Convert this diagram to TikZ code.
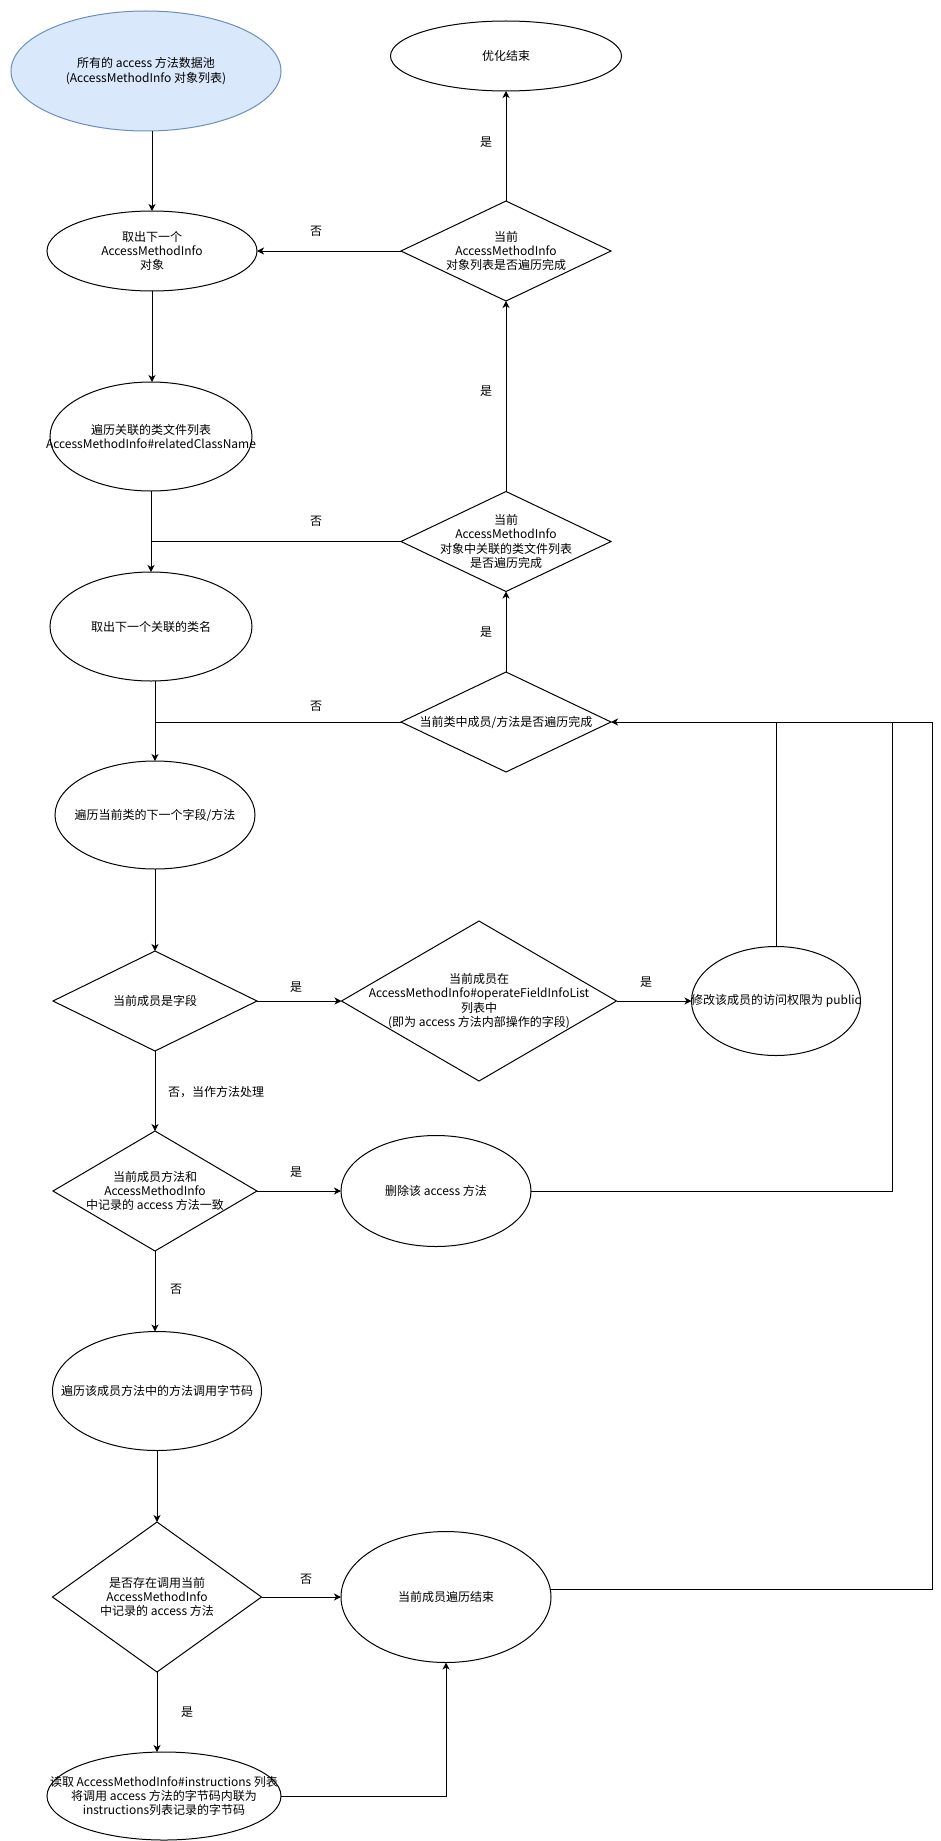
\documentclass[tikz,border=0pt]{standalone}
\usepackage{fontspec}
\setmainfont{Noto Sans CJK SC}
\usetikzlibrary{shapes.geometric,arrows.meta}
\definecolor{fillblue}{HTML}{DAE8FC}
\definecolor{strokeblue}{HTML}{6C8EBF}
\tikzset{
  shp/.style={draw=black, line width=1pt, inner sep=0pt, outer sep=0pt},
  ell/.style={shp, ellipse},
  dia/.style={shp, diamond},
  txt/.style={align=center, inner sep=0pt, font=\fontsize{12}{14.3}\selectfont},
  lbl/.style={inner sep=0pt, font=\fontsize{12}{14.3}\selectfont},
  arr/.style={line width=1pt, -{Stealth[length=7pt,width=7pt,inset=2pt]}},
  ln/.style={line width=1pt},
}
\begin{document}
\begin{tikzpicture}[x=1pt,y=-1pt]
\useasboundingbox (0,0) rectangle (941,1841);
\fill[white] (0,0) rectangle (941,1841);

% shapes
\node[ell, fill=fillblue, draw=strokeblue, minimum width=270pt, minimum height=120pt] (A) at (146,71) {};
\node[ell, minimum width=231pt, minimum height=70pt] (B) at (506,56) {};
\node[ell, minimum width=210pt, minimum height=80pt] (C) at (152,251) {};
\node[dia, minimum width=210pt, minimum height=100pt] (D) at (506,251) {};
\node[ell, minimum width=202pt, minimum height=109pt] (E) at (151,436.5) {};
\node[dia, minimum width=210pt, minimum height=100pt] (F) at (506,541.5) {};
\node[ell, minimum width=202pt, minimum height=109pt] (G) at (151,626.5) {};
\node[dia, minimum width=210pt, minimum height=100pt] (H) at (506,722) {};
\node[ell, minimum width=200pt, minimum height=108pt] (I) at (155,815) {};
\node[dia, minimum width=204pt, minimum height=100pt] (J) at (155,1001) {};
\node[dia, minimum width=275pt, minimum height=160pt] (K) at (479,1001) {};
\node[ell, minimum width=169pt, minimum height=109pt] (L) at (776,1001) {};
\node[dia, minimum width=204pt, minimum height=120pt] (M) at (155,1191) {};
\node[ell, minimum width=190pt, minimum height=111pt] (N) at (436,1191) {};
\node[ell, minimum width=209pt, minimum height=119pt] (O) at (157,1391) {};
\node[dia, minimum width=209pt, minimum height=150pt] (P) at (157,1597) {};
\node[ell, minimum width=210pt, minimum height=131pt] (Q) at (446,1597) {};
\node[ell, minimum width=234pt, minimum height=88pt] (R) at (164,1796) {};

% texts
\node[txt] (At) at (A) {所有的 access 方法数据池\\(AccessMethodInfo 对象列表)};
\node[txt] (Bt) at (B) {优化结束};
\node[txt] (Ct) at (C) {取出下一个\\AccessMethodInfo\\对象};
\node[txt] (Dt) at (D) {当前\\AccessMethodInfo\\对象列表是否遍历完成};
\node[txt] (Et) at (E) {遍历关联的类文件列表\\AccessMethodInfo\#relatedClassName};
\node[txt] (Ft) at (F) {当前\\AccessMethodInfo\\对象中关联的类文件列表\\是否遍历完成};
\node[txt] (Gt) at (G) {取出下一个关联的类名};
\node[txt] (Ht) at (H) {当前类中成员/方法是否遍历完成};
\node[txt] (It) at (I) {遍历当前类的下一个字段/方法};
\node[txt] (Jt) at (J) {当前成员是字段};
\node[txt] (Kt) at (K) {当前成员在\\AccessMethodInfo\#operateFieldInfoList\\列表中\\(即为 access 方法内部操作的字段)};
\node[txt] (Lt) at (L) {修改该成员的访问权限为 public};
\node[txt] (Mt) at (M) {当前成员方法和\\AccessMethodInfo\\中记录的 access 方法一致};
\node[txt] (Nt) at (N) {删除该 access 方法};
\node[txt] (Ot) at (O) {遍历该成员方法中的方法调用字节码};
\node[txt] (Pt) at (P) {是否存在调用当前\\AccessMethodInfo\\中记录的 access 方法};
\node[txt] (Qt) at (Q) {当前成员遍历结束};
\node[txt] (Rt) at (R) {读取 AccessMethodInfo\#instructions 列表\\将调用 access 方法的字节码内联为\\instructions列表记录的字节码};

% helper coordinates
\coordinate (c892) at (892,722);
\coordinate (c932) at (932,722);

% connectors
\draw[arr] (A.south -| C.north) -- (C.north);
\draw[arr] (C.south) -- (C.south |- E.north);
\draw[arr] (E.south) -- (E.south |- G.north);
\draw[ln] (F.west) -- (F.west -| E.south);
\draw[arr] (I.north |- G.south) -- (I.north);
\draw[ln] (H.west) -- (H.west -| I.north);
\draw[arr] (H.north) -- (F.south);
\draw[arr] (F.north) -- (D.south);
\draw[arr] (D.north) -- (B.south);
\draw[arr] (D.west) -- (C.east);
\draw[arr] (I.south) -- (J.north);
\draw[arr] (J.east) -- (K.west);
\draw[arr] (K.east) -- (L.west);
\draw[ln] (L.north) -- (L.north |- H.east);
\draw[arr] (J.south) -- (M.north);
\draw[arr] (M.east) -- (N.west);
\draw[ln] (N.east) -| (c892);
\draw[arr] (Q.4) -| (c932) -- (H.east);
\draw[arr] (M.south) -- (M.south |- O.north);
\draw[arr] (O.south) -- (P.north);
\draw[arr] (P.east) -- (Q.west);
\draw[arr] (P.south) -- (P.south |- R.north);
\draw[arr] (R.east) -| (Q.south);

% edge labels
\node[lbl] (l1) at (486,142) {是};
\node[lbl] (l2) at (316,231) {否};
\node[lbl] (l3) at (486,391) {是};
\node[lbl] (l4) at (316,521) {否};
\node[lbl] (l5) at (486,632) {是};
\node[lbl] (l6) at (316,706) {否};
\node[lbl] (l7) at (296,987) {是};
\node[lbl] (l8) at (646,982) {是};
\node[lbl, anchor=west] (l9) at (168,1092) {否，当作方法处理};
\node[lbl] (l10) at (296,1172) {是};
\node[lbl] (l11) at (176,1289) {否};
\node[lbl] (l12) at (306,1579) {否};
\node[lbl] (l13) at (187,1712) {是};
\end{tikzpicture}
\end{document}
